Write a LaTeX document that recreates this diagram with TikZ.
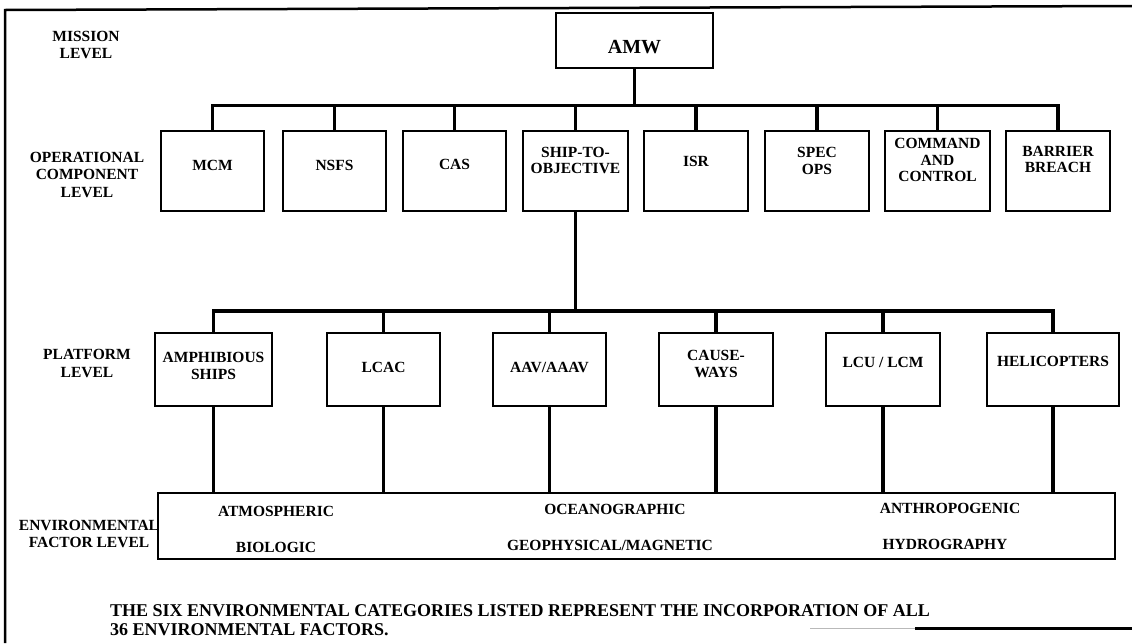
\documentclass[tikz,border=0pt]{standalone}
\usepackage{fontspec}
\setmainfont{Liberation Serif}
\begin{document}
\begin{tikzpicture}[x=1pt,y=-1pt,
  box/.style={draw, line width=1.8pt, inner sep=0pt},
  conn/.style={line width=3.2pt, line join=miter},
  txt/.style={font=\bfseries\fontsize{15.5}{16.5}\selectfont, align=center, inner sep=0pt},
  lvl/.style={font=\bfseries\fontsize{15.5}{17.5}\selectfont, align=center, inner sep=0pt},
  note/.style={font=\bfseries\fontsize{18}{18}\selectfont, inner sep=0pt, anchor=base west}
]
\useasboundingbox (0,0) rectangle (1132,643);

% outer frame
\draw[line width=2.5pt] (1132,6) -- (5,10) -- (5,643);
\draw[line width=1.4pt, gray!55] (810,628.5) -- (915,628.5);
\draw[line width=2.2pt] (915,628.5) -- (1132,628.5);

% level captions
\node[lvl] (lv1) at (86,45) {MISSION\\LEVEL};
\node[lvl] (lv2) at (87,174.5) {OPERATIONAL\\COMPONENT\\LEVEL};
\node[lvl] (lv3) at (87,363.5) {PLATFORM\\LEVEL};
\node[lvl] (lv4) at (89,534) {ENVIRONMENTAL\\FACTOR LEVEL};

% mission level
\node[box, minimum width=157, minimum height=55] (amw) at (634.5,40.5) {};
\node[font=\bfseries\fontsize{20}{22}\selectfont, inner sep=0pt] (amwt) at (634.5,46.7) {AMW};

% operational component level
\node[box, minimum width=103, minimum height=80] (mcm)     at (212.5,171) {};
\node[box, minimum width=103, minimum height=80] (nsfs)    at (334.5,171) {};
\node[box, minimum width=103, minimum height=80] (cas)     at (454.5,171) {};
\node[box, minimum width=105, minimum height=80] (ship)    at (575.5,171) {};
\node[box, minimum width=104, minimum height=80] (isr)     at (696,171) {};
\node[box, minimum width=104, minimum height=80] (spec)    at (817,171) {};
\node[box, minimum width=105, minimum height=80] (cmd)     at (937.5,171) {};
\node[box, minimum width=104, minimum height=80] (barrier) at (1058,171) {};

\node[txt] (mcmt)     at (212.5,165) {MCM};
\node[txt] (nsfst)    at (334.5,165) {NSFS};
\node[txt] (cast)     at (454.5,164) {CAS};
\node[txt] (shipt)    at (575.5,160.5) {SHIP-TO-\\OBJECTIVE};
\node[txt] (isrt)     at (696,161) {ISR};
\node[txt] (spect)    at (817,161) {SPEC\\OPS};
\node[txt] (cmdt)     at (937.5,160) {COMMAND\\AND\\CONTROL};
\node[txt] (barriert) at (1058,159.5) {BARRIER\\BREACH};

% platform level
\node[box, minimum width=117, minimum height=73] (amph)  at (213.5,369.5) {};
\node[box, minimum width=113, minimum height=73] (lcac)  at (383.5,369.5) {};
\node[box, minimum width=113, minimum height=73] (aav)   at (549.5,369.5) {};
\node[box, minimum width=114, minimum height=73] (cause) at (716,369.5) {};
\node[box, minimum width=114, minimum height=73] (lcu)   at (883,369.5) {};
\node[box, minimum width=132, minimum height=73] (heli)  at (1053,369.5) {};

\node[txt] (ampht)  at (213.5,366) {AMPHIBIOUS\\SHIPS};
\node[txt] (lcact)  at (383.5,367) {LCAC};
\node[txt] (aavt)   at (549.5,367) {AAV/AAAV};
\node[txt] (causet) at (716,364) {CAUSE-\\WAYS};
\node[txt] (lcut)   at (883,362) {LCU / LCM};
\node[txt] (helit)  at (1053,361) {HELICOPTERS};

% environmental factor level
\node[box, minimum width=957, minimum height=66] (env) at (636.5,526) {};
\node[txt] (e1) at (276,511) {ATMOSPHERIC};
\node[txt] (e2) at (276,547) {BIOLOGIC};
\node[txt] (e3) at (615,509) {OCEANOGRAPHIC};
\node[txt] (e4) at (610,545) {GEOPHYSICAL/MAGNETIC};
\node[txt] (e5) at (950,508) {ANTHROPOGENIC};
\node[txt] (e6) at (945,544) {HYDROGRAPHY};

% footnote, two lines
\node[note] (fn1) at (110,616) {THE SIX ENVIRONMENTAL CATEGORIES LISTED REPRESENT THE INCORPORATION OF ALL};
\node[note] (fn2) at (110,635) {36 ENVIRONMENTAL FACTORS.};

% connectors
\coordinate (busA) at (0,105.5);
\coordinate (busB) at (0,311);
\draw[conn] (amw.south) -- (amw.south |- busA);
\draw[conn] (mcm.north) -- (mcm.north |- busA) -- (barrier.north |- busA) -- (barrier.north);
\foreach \n in {nsfs,cas,ship,isr,spec,cmd}
  \draw[conn] (\n.north) -- (\n.north |- busA);
\draw[conn] (ship.south) -- (ship.south |- busB);
\draw[conn] (amph.north) -- (amph.north |- busB) -- (heli.north |- busB) -- (heli.north);
\foreach \n in {lcac,aav,cause,lcu}
  \draw[conn] (\n.north) -- (\n.north |- busB);
\foreach \n in {amph,lcac,aav,cause,lcu,heli}
  \draw[conn] (\n.south) -- (\n.south |- env.north);
\end{tikzpicture}
\end{document}
